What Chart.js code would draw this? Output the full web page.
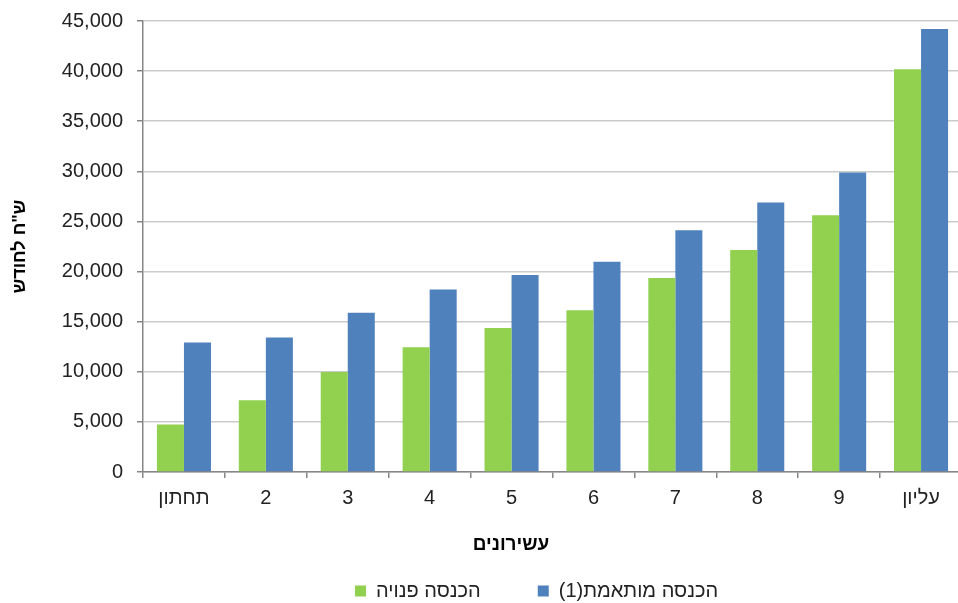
<!DOCTYPE html>
<html><head><meta charset="utf-8">
<script src="https://cdn.jsdelivr.net/npm/chart.js@4/dist/chart.umd.min.js"></script>
<style>html,body{margin:0;padding:0;overflow:hidden;background:#fff;width:958px;height:603px}canvas{display:block}</style>
</head><body>
<canvas id="c" width="966" height="603"></canvas>
<script>
const categories = ['תחתון','2','3','4','5','6','7','8','9','עליון'];
const seriesNames = ['הכנסה פנויה','הכנסה מותאמת(1)'];
const disposableIncome = [4730, 7160, 9980, 12440, 14370, 16130, 19360, 22150, 25620, 40190];
const adjustedIncome = [12910, 13410, 15900, 18200, 19660, 20990, 24120, 26880, 29880, 44210];
const yTitle = 'ש"ח לחודש';
const xTitle = 'עשירונים';
const yMax = 45000, yStep = 5000;

const FONT = "'Liberation Sans', Arial, sans-serif";
const LEGEND_SIZE = 20;
const TITLE_SIZE = 19;

const placeBoxes = {
  id: 'placeBoxes',
  afterLayout(chart) {
    const lg = chart.legend;
    if (lg && lg.lineWidths) {
      const pad = lg.options.labels.padding;
      const start = (lg.left + pad + lg.right - lg.lineWidths[0]) / 2;
      const dx = 355 - start;
      lg.left += dx; lg.right += dx;
      const dy = 591 - (lg.top + pad + LEGEND_SIZE / 2);
      lg.top += dy; lg.bottom += dy;
    }
    const tb = chart.titleBlock;
    if (tb) {
      const dx = 511 - (tb.left + tb.right) / 2;
      tb.left += dx; tb.right += dx;
      const dy = 545 - (tb.top + TITLE_SIZE * 0.6);
      tb.top += dy; tb.bottom += dy;
    }
  }
};

new Chart(document.getElementById('c'), {
  type: 'bar',
  data: {
    labels: categories,
    datasets: [
      {label: seriesNames[0], data: disposableIncome, backgroundColor: '#92D050', borderWidth: 0,
       categoryPercentage: 0.66, barPercentage: 1.0},
      {label: seriesNames[1], data: adjustedIncome, backgroundColor: '#4F81BD', borderWidth: 0,
       categoryPercentage: 0.66, barPercentage: 1.0}
    ]
  },
  plugins: [placeBoxes],
  options: {
    responsive: false,
    animation: false,
    devicePixelRatio: 1,
    layout: {padding: {top: 21, right: 4, left: 0, bottom: -28.8}},
    scales: {
      x: {
        grid: {display: true, drawOnChartArea: false, drawTicks: true, tickLength: 6, color: '#868686', lineWidth: 1.5, offset: true},
        border: {display: true, color: '#868686', width: 1.5},
        ticks: {color: '#222', font: {family: FONT, size: 20}, padding: 8, maxRotation: 0, autoSkip: false},
        afterFit(s) { s.height = 50; s.paddingLeft = 0; s.paddingRight = 0; }
      },
      y: {
        min: 0, max: yMax,
        grid: {color: '#cbcbcb', lineWidth: 1.5, tickLength: 6, tickColor: '#868686'},
        border: {display: true, color: '#868686', width: 1.5},
        ticks: {stepSize: yStep, color: '#222', font: {family: FONT, size: 20}, padding: 14,
          callback: v => v.toLocaleString('en-US')},
        title: {display: true, text: yTitle, color: '#000', font: {family: FONT, size: 18, weight: 'bold'}, padding: {top: 9, bottom: 0}},
        afterFit(s) { s.width = 143; s.paddingTop = 0; s.paddingBottom = 0; }
      }
    },
    plugins: {
      tooltip: {enabled: false},
      title: {display: true, text: xTitle, position: 'bottom', weight: 500, color: '#000',
        font: {family: FONT, size: TITLE_SIZE, weight: 'bold', lineHeight: 1.2}, padding: 0},
      legend: {
        position: 'bottom',
        textDirection: 'rtl',
        labels: {boxWidth: 11, boxHeight: 11, padding: 57, color: '#222',
          font: {family: FONT, size: LEGEND_SIZE}}
      }
    }
  }
});
</script>
</body></html>
